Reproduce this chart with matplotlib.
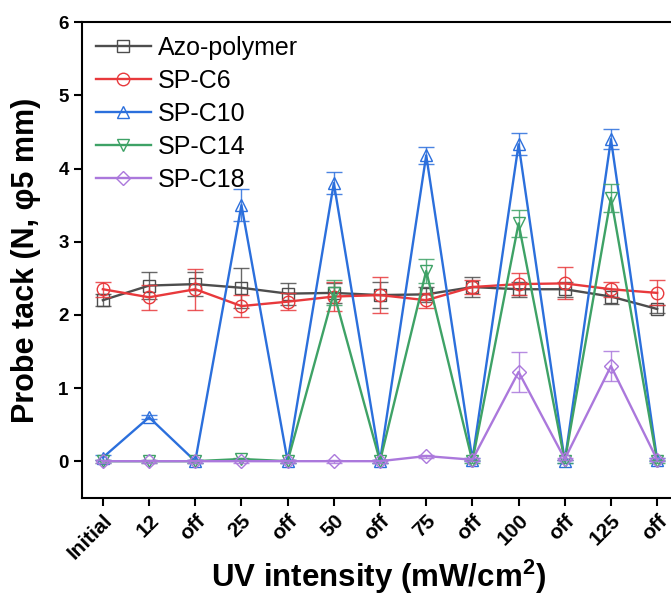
import matplotlib.pyplot as plt

plt.rcParams['font.family'] = ['Liberation Sans', 'DejaVu Sans']
plt.rcParams['mathtext.fontset'] = 'custom'
plt.rcParams['mathtext.rm'] = 'Liberation Sans:bold'
plt.rcParams['mathtext.bf'] = 'Liberation Sans:bold'

labels = ['Initial', '12', 'off', '25', 'off', '50', 'off', '75', 'off', '100', 'off', '125', 'off']

azo = [2.20, 2.40, 2.42, 2.37, 2.29, 2.30, 2.27, 2.28, 2.38, 2.35, 2.35, 2.25, 2.08]
azo_err = [0.08, 0.19, 0.16, 0.27, 0.15, 0.14, 0.18, 0.10, 0.14, 0.10, 0.10, 0.10, 0.05]

c6 = [2.35, 2.24, 2.35, 2.12, 2.18, 2.25, 2.27, 2.20, 2.38, 2.42, 2.43, 2.35, 2.30]
c6_err = [0.10, 0.17, 0.28, 0.15, 0.12, 0.20, 0.25, 0.10, 0.10, 0.15, 0.22, 0.10, 0.17]

c10 = [0.05, 0.60, 0.00, 3.50, 0.00, 3.80, 0.00, 4.18, 0.02, 4.33, 0.00, 4.40, 0.02]
c10_err = [0.03, 0.03, 0.02, 0.22, 0.02, 0.15, 0.02, 0.12, 0.02, 0.15, 0.02, 0.14, 0.02]

c14 = [0.00, 0.00, 0.00, 0.03, 0.00, 2.30, 0.00, 2.60, 0.00, 3.25, 0.00, 3.60, 0.00]
c14_err = [0.02, 0.02, 0.02, 0.02, 0.02, 0.17, 0.02, 0.17, 0.02, 0.18, 0.02, 0.19, 0.02]

c18 = [0.00, 0.00, 0.00, 0.00, 0.00, 0.00, 0.00, 0.07, 0.02, 1.22, 0.03, 1.30, 0.02]
c18_err = [0.02, 0.02, 0.02, 0.02, 0.02, 0.02, 0.02, 0.02, 0.02, 0.27, 0.02, 0.20, 0.02]

series = [
    ('Azo-polymer', azo, azo_err, '#4d4d4d', 's'),
    ('SP-C6', c6, c6_err, '#e8393c', 'o'),
    ('SP-C10', c10, c10_err, '#2b6fdc', '^'),
    ('SP-C14', c14, c14_err, '#3ea266', 'v'),
    ('SP-C18', c18, c18_err, '#ab78dc', 'D'),
]

fig = plt.figure(figsize=(6.71, 5.99), dpi=100)
ax = fig.add_axes([0.122, 0.169, 0.878, 0.794])

x = list(range(len(labels)))
for name, y, err, col, mk in series:
    ms = 9 if mk != 'D' else 7.5
    ax.errorbar(x, y, yerr=err, fmt='none', ecolor=col, elinewidth=1.0,
                capsize=6, capthick=1.0, alpha=0.85)
    ax.plot(x, y, color=col, lw=1.7, marker=mk, ms=ms, mfc='none',
            mec=col, mew=1.0, label=name)

ax.set_xlim(-0.455, 12.3)
ax.set_ylim(-0.5, 6)
ax.set_xticks(x)
ax.set_xticklabels(labels, rotation=45, ha='right', rotation_mode='anchor',
                   fontsize=15, fontweight='bold')
ax.set_yticks(range(7))
ax.set_yticklabels([str(i) for i in range(7)], fontsize=13.5, fontweight='bold')
ax.tick_params(direction='out', length=6, width=1.5)
for s in ['left', 'bottom', 'top']:
    ax.spines[s].set_linewidth(1.5)
ax.spines['right'].set_visible(False)

ax.set_ylabel('Probe tack (N, φ5 mm)', fontsize=22, fontweight='bold')
ax.yaxis.set_label_coords(-0.07, 0.5)
ax.set_xlabel(r'UV intensity (mW/cm$^{\mathbf{2}}$)', fontsize=22.5, fontweight='bold')
ax.xaxis.set_label_coords(0.503, -0.125)

ax.legend(loc='upper left', frameon=False, fontsize=18, handlelength=2.2,
          labelspacing=0.36, handletextpad=0.3, borderaxespad=0.15,
          bbox_to_anchor=(0.0, 1.0))

fig.savefig('out.png', dpi=100)
